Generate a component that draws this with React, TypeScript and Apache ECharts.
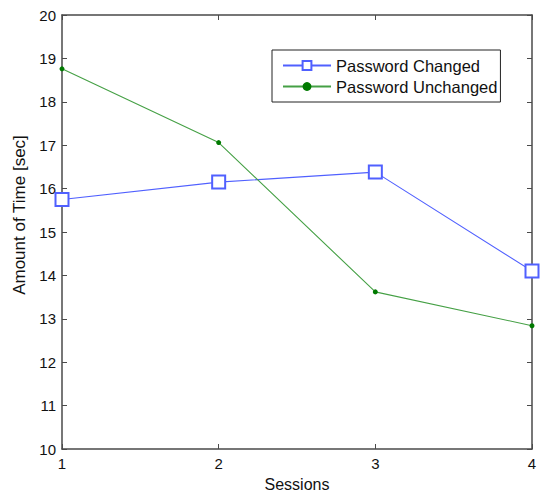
import React, { useEffect, useRef } from "react";
import * as echarts from "echarts";

const sessions = [1, 2, 3, 4];
const changed = [15.75, 16.15, 16.38, 14.1];
const unchanged = [18.76, 17.06, 13.62, 12.84];
const yTicks = [10, 20];

export default function App() {
  const ref = useRef<HTMLDivElement>(null);
  useEffect(() => {
    const chart = echarts.init(ref.current!, null, { renderer: "svg" });
    const font = "Helvetica, Arial, 'Liberation Sans', sans-serif";
    const axisLine = { show: true, lineStyle: { color: "#4a4a4a", width: 1.5 } };
    const tick = { inside: true, length: 5, lineStyle: { color: "#4a4a4a" } };
    chart.setOption({
      animation: false,
      backgroundColor: "#ffffff",
      textStyle: { fontFamily: font },
      grid: { left: 62, right: 8, top: 15, bottom: 40 },
      legend: {
        orient: "vertical",
        left: 272,
        top: 50,
        itemWidth: 48,
        itemHeight: 11,
        itemGap: 4,
        padding: [7, 3, 7, 10],
        borderColor: "#222",
        borderWidth: 1,
        backgroundColor: "#fff",
        textStyle: { fontSize: 16.5, color: "#111", fontFamily: font },
        data: ["Password Changed", "Password Unchanged"],
      },
      xAxis: [
        {
          type: "value",
          min: sessions[0],
          max: sessions[sessions.length - 1],
          interval: 1,
          name: "Sessions",
          nameLocation: "middle",
          nameGap: 27,
          nameTextStyle: { fontSize: 16, color: "#111" },
          axisLine,
          axisTick: tick,
          axisLabel: { fontSize: 15, color: "#111", margin: 7 },
          splitLine: { show: false },
        },
        {
          type: "value",
          position: "top",
          min: sessions[0],
          max: sessions[sessions.length - 1],
          interval: 1,
          axisLine,
          axisTick: tick,
          axisLabel: { show: false },
          splitLine: { show: false },
        },
      ],
      yAxis: [
        {
          type: "value",
          min: yTicks[0],
          max: yTicks[1],
          interval: 1,
          name: "Amount of Time [sec]",
          nameLocation: "middle",
          nameGap: 32,
          nameTextStyle: { fontSize: 17, color: "#111", padding: [0, 0, 0, 34] },
          axisLine,
          axisTick: tick,
          axisLabel: { fontSize: 15, color: "#111", margin: 6 },
          splitLine: { show: false },
        },
        {
          type: "value",
          position: "right",
          min: yTicks[0],
          max: yTicks[1],
          interval: 1,
          axisLine,
          axisTick: tick,
          axisLabel: { show: false },
          splitLine: { show: false },
        },
      ],
      series: [
        {
          name: "Password Changed",
          type: "line",
          data: sessions.map((s, i) => [s, changed[i]]),
          symbol: "emptyRect",
          symbolSize: 13,
          lineStyle: { color: "#5060ff", width: 1.1 },
          itemStyle: { color: "#5060ff", borderColor: "#5060ff", borderWidth: 1.1 },
          color: "#5060ff",
        },
        {
          name: "Password Unchanged",
          type: "line",
          data: sessions.map((s, i) => [s, unchanged[i]]),
          symbol: "circle",
          symbolSize: 5,
          lineStyle: { color: "#45a045", width: 1.1 },
          itemStyle: { color: "#007a00" },
          color: "#45a045",
        },
      ],
    });
    return () => chart.dispose();
  }, []);
  return (
    <div
      ref={ref}
      style={{ position: "fixed", left: 0, top: 0, width: 540, height: 497 }}
    />
  );
}
